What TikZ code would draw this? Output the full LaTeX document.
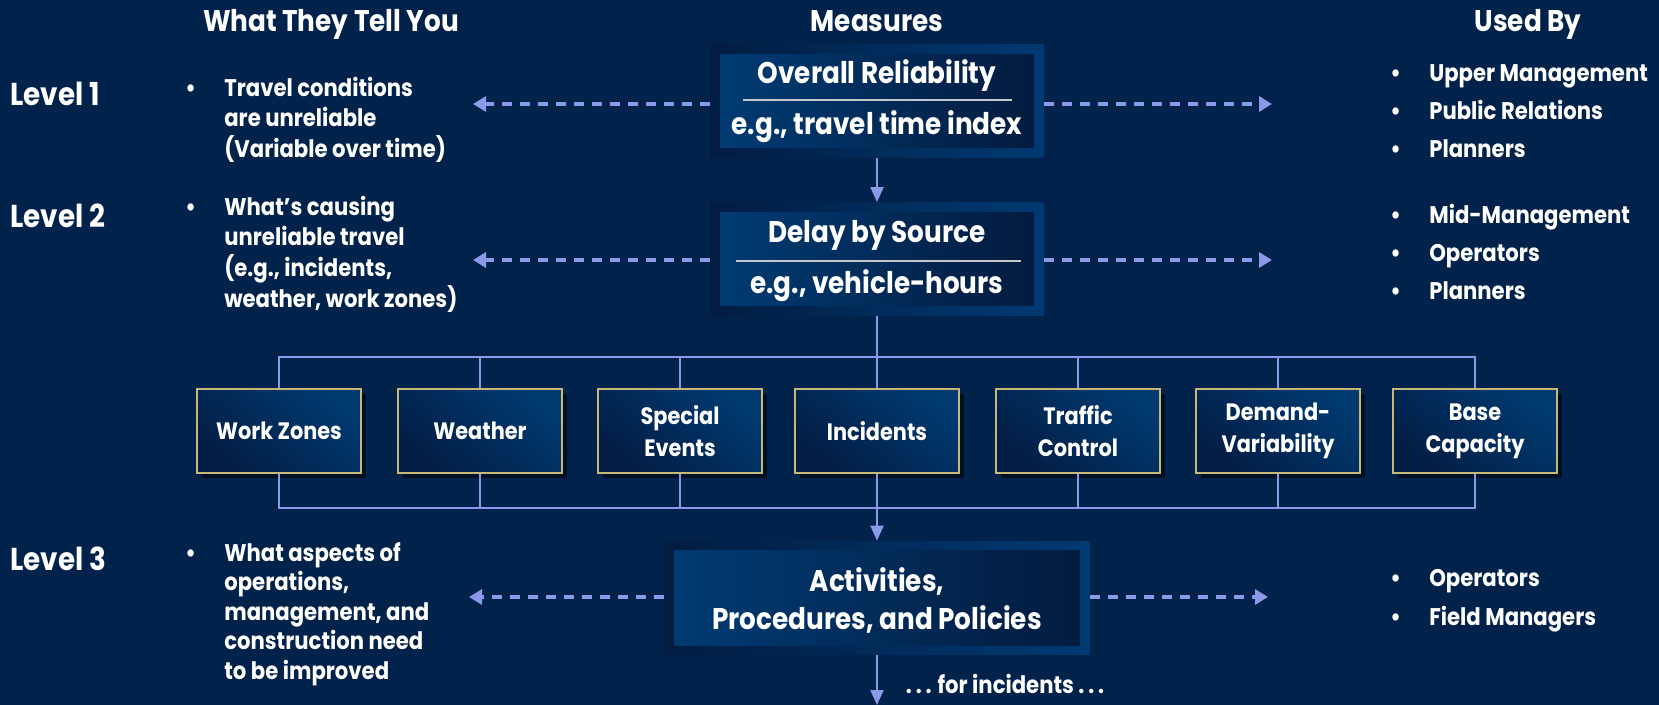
\documentclass[tikz,border=0pt]{standalone}
\usepackage{fontspec}
\setmainfont{Poppins}[FakeStretch=0.88]
\usetikzlibrary{arrows.meta,shadows,calc}

\definecolor{navybg}{HTML}{01224A}
\definecolor{flowblue}{HTML}{8C98E8}
\definecolor{framedark}{HTML}{021C42}
\definecolor{framelight}{HTML}{003A72}
\definecolor{innerlight}{HTML}{003C74}
\definecolor{innerdark}{HTML}{041A3E}
\definecolor{catgold}{HTML}{C8B878}
\definecolor{catlight}{HTML}{003A70}
\definecolor{catdark}{HTML}{031D45}
\definecolor{rulegray}{HTML}{C4C8CC}

\newcommand{\dotsep}{.\kern0.16em.\kern0.16em.}

\tikzset{
  headtext/.style={text=white, anchor=base, inner sep=0pt, font=\fontsize{17}{20}\selectfont\bfseries},
  leveltext/.style={text=white, anchor=base west, inner sep=0pt, font=\fontsize{18}{21}\selectfont\bfseries},
  bullettext/.style={text=white, anchor=base west, inner sep=0pt, font=\fontsize{13.7}{16.8}\selectfont\bfseries},
  measurebox/.style={inner sep=0pt, minimum height=2.26cm, left color=framedark, right color=framelight,
    path picture={\shade[left color=innerlight, right color=innerdark]
      ($(path picture bounding box.south west)+(0.2cm,0.19cm)$) rectangle
      ($(path picture bounding box.north east)+(-0.2cm,-0.19cm)$);}},
  measuretext/.style={text=white, anchor=base, inner sep=0pt, font=\fontsize{17}{20}\selectfont\bfseries},
  sourcebox/.style={draw=catgold, line width=0.8pt, minimum width=3.28cm, minimum height=1.68cm,
    align=center, text=white, inner sep=2pt, top color=catlight, bottom color=catdark, shading angle=-40,
    drop shadow={shadow xshift=0.1cm, shadow yshift=-0.1cm, opacity=0.55, fill=black},
    font=\fontsize{13.5}{18.2}\selectfont\bfseries},
  flow/.style={draw=flowblue, line width=1.2pt, -{Triangle[length=0.3cm, width=0.26cm]}},
  dashflow/.style={draw=flowblue, line width=1.9pt, dash pattern=on 0.21cm off 0.15cm,
    -{Triangle[length=0.26cm, width=0.3cm]}},
  bus/.style={draw=flowblue, line width=1.6pt},
  branch/.style={draw=flowblue, line width=1.1pt},
  seprule/.style={draw=rulegray, line width=1.2pt},
}

\begin{document}
\begin{tikzpicture}[x=0.02cm, y=-0.02cm]
  \useasboundingbox (0,0) rectangle (1659,705);
  \fill[navybg] (0,0) rectangle (1659,705);

  % column heads
  \node[headtext] (tellhead) at (331,32) {What They Tell You};
  \node[headtext] (meashead) at (877,32) {Measures};
  \node[headtext] (usedhead) at (1528,32) {Used By};

  % levels
  \node[leveltext] (lev1) at (10,106) {Level 1};
  \node[leveltext] (lev2) at (10,228) {Level 2};
  \node[leveltext] (lev3) at (10,570) {Level 3};

  % what they tell you
  \node[bullettext] (tell1) at (185,97) {\begin{tabular}[t]{@{}p{0.78cm}@{}l@{}}\textbullet & Travel conditions\\ & are unreliable\\ & (Variable over time)\end{tabular}};
  \node[bullettext] (tell2) at (185,216) {\begin{tabular}[t]{@{}p{0.78cm}@{}l@{}}\textbullet & What’s causing\\ & unreliable travel\\ & (e.g., incidents,\\ & weather, work zones)\end{tabular}};
  \node[bullettext] (tell3) at (185,561) {\begin{tabular}[t]{@{}p{0.78cm}@{}l@{}}\textbullet & What aspects of\\ & operations,\\ & management, and\\ & construction need\\ & to be improved\end{tabular}};

  % used by
  \node[bullettext] (use1a) at (1390,82) {\makebox[0.78cm][l]{\textbullet}Upper Management};
  \node[bullettext] (use1b) at (1390,120) {\makebox[0.78cm][l]{\textbullet}Public Relations};
  \node[bullettext] (use1c) at (1390,158) {\makebox[0.78cm][l]{\textbullet}Planners};
  \node[bullettext] (use2a) at (1390,224) {\makebox[0.78cm][l]{\textbullet}Mid-Management};
  \node[bullettext] (use2b) at (1390,262) {\makebox[0.78cm][l]{\textbullet}Operators};
  \node[bullettext] (use2c) at (1390,300) {\makebox[0.78cm][l]{\textbullet}Planners};
  \node[bullettext] (use3a) at (1390,586) {\makebox[0.78cm][l]{\textbullet}Operators};
  \node[bullettext] (use3b) at (1390,625) {\makebox[0.78cm][l]{\textbullet}Field Managers};

  % measures
  \node[measurebox, minimum width=6.66cm] (rel) at (877,101) {};
  \node[measuretext] (reltop) at (877,84) {Overall Reliability};
  \draw[seprule] (743,100) -- (1012,100);
  \node[measuretext] (relbot) at (877,135) {e.g., travel time index};

  \node[measurebox, minimum width=6.66cm] (delay) at (877,259) {};
  \node[measuretext] (delaytop) at (877,243) {Delay by Source};
  \draw[seprule] (736,261) -- (1021,261);
  \node[measuretext] (delaybot) at (877,294) {e.g., vehicle-hours};

  \node[measurebox, minimum width=8.5cm, minimum height=2.28cm] (act) at (877,598) {};
  \node[measuretext] (acttop) at (877,591) {Activities,};
  \node[measuretext] (actbot) at (877,629) {Procedures, and Policies};

  % sources of delay
  \node[sourcebox] (wz) at (279,431) {Work Zones};
  \node[sourcebox] (wx) at (480,431) {Weather};
  \node[sourcebox] (se) at (680,431) {Special\\Events};
  \node[sourcebox] (inc) at (877,431) {Incidents};
  \node[sourcebox] (tc) at (1078,431) {Traffic\\Control};
  \node[sourcebox] (dv) at (1278,431) {Demand-\\Variability};
  \node[sourcebox] (bc) at (1475,431) {Base\\Capacity};

  % tree
  \coordinate (topbus) at (877,357);
  \coordinate (botbus) at (877,508);
  \draw[branch] (delay.south) -- (topbus);
  \draw[bus] (wz.north) -- (wz.north |- topbus) -- (bc.north |- topbus) -- (bc.north);
  \draw[bus] (wz.south) -- (wz.south |- botbus) -- (bc.south |- botbus) -- (bc.south);
  \draw[branch] (wx.north |- topbus) -- (wx.north) (wx.south) -- (wx.south |- botbus);
  \draw[branch] (se.north |- topbus) -- (se.north) (se.south) -- (se.south |- botbus);
  \draw[branch] (inc.north |- topbus) -- (inc.north) (inc.south) -- (inc.south |- botbus);
  \draw[branch] (tc.north |- topbus) -- (tc.north) (tc.south) -- (tc.south |- botbus);
  \draw[branch] (dv.north |- topbus) -- (dv.north) (dv.south) -- (dv.south |- botbus);

  % arrows
  \draw[flow] (rel.south) -- (delay.north);
  \draw[flow] (botbus) -- (act.north);
  \coordinate (outend) at (877,705);
  \draw[flow] (act.south) -- (outend);
  \node[bullettext, anchor=base] (forinc) at (1005,693) {\dotsep{} for incidents \dotsep};

  \coordinate (tellend1) at (473,104);
  \coordinate (useend1) at (1272,104);
  \coordinate (tellend2) at (473,260);
  \coordinate (useend2) at (1272,260);
  \coordinate (tellend3) at (469,597);
  \coordinate (useend3) at (1268,597);
  \draw[dashflow] (rel.west |- tellend1) -- (tellend1);
  \draw[dashflow] (rel.east |- useend1) -- (useend1);
  \draw[dashflow] (delay.west |- tellend2) -- (tellend2);
  \draw[dashflow] (delay.east |- useend2) -- (useend2);
  \draw[dashflow] (act.west |- tellend3) -- (tellend3);
  \draw[dashflow] (act.east |- useend3) -- (useend3);
\end{tikzpicture}
\end{document}
